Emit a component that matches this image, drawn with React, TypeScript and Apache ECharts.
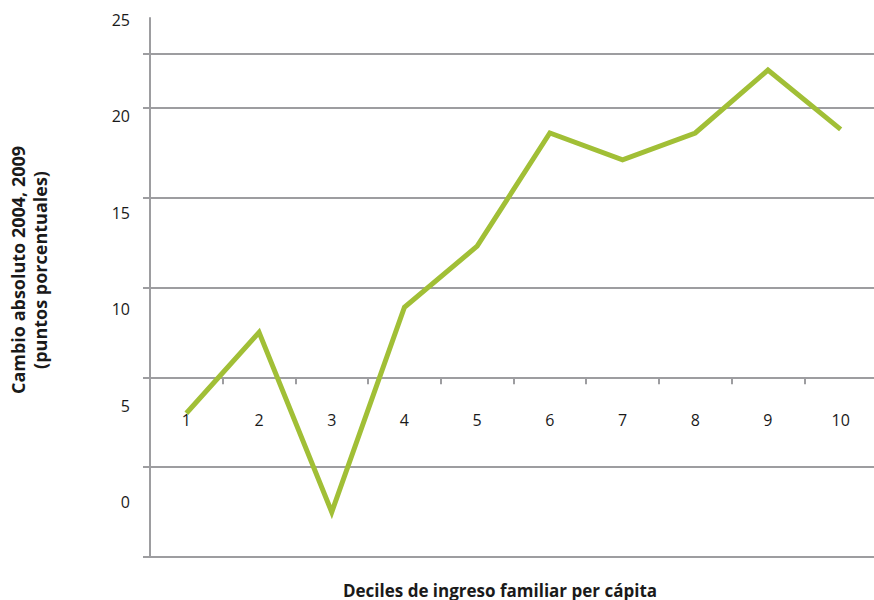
import React, { useEffect, useRef } from "react";
import * as echarts from "echarts";

const deciles = ["1", "2", "3", "4", "5", "6", "7", "8", "9", "10"];
const cambio = [-2, 2.5, -7.5, 3.9, 7.3, 13.6, 12.1, 13.6, 17.1, 13.8];
const gridTickValues = [-10, -5, 0, 5, 10, 15, 18];
const labelTickValues = [0, 5, 10, 15, 20, 25];
const yTitle = "Cambio absoluto 2004, 2009\n(puntos porcentuales)";
const xTitle = "Deciles de ingreso familiar per cápita";

const GREY = "#9d9da0";
const GREEN = "#a1bf36";
const FONT = "'Open Sans', 'Noto Sans', sans-serif";

const GRID_TOP = 18;
const GRID_BOTTOM_PX = 557;
const Y_MIN = -10;
const Y_MAX = 20;

export default function App() {
  const ref = useRef<HTMLDivElement>(null);
  useEffect(() => {
    if (!ref.current) return;
    const chart = echarts.init(ref.current, null, { renderer: "svg" });
    const pxPerUnit = (GRID_BOTTOM_PX - GRID_TOP) / (Y_MAX - Y_MIN);
    const zeroOffset = -(0 - Y_MIN) * pxPerUnit;
    chart.setOption({
      animation: false,
      textStyle: { fontFamily: FONT },
      grid: {
        left: 150,
        right: -3,
        top: GRID_TOP,
        bottom: 600 - GRID_BOTTOM_PX,
        outerBoundsMode: "none",
        containLabel: false,
      },
      xAxis: {
        type: "category",
        data: deciles,
        boundaryGap: true,
        position: "bottom",
        offset: zeroOffset,
        axisLine: { show: true, onZero: false, lineStyle: { color: GREY, width: 2 } },
        axisTick: { show: true, length: 7, lineStyle: { color: GREY, width: 2 } },
        axisLabel: { margin: 35, fontSize: 16, color: "#1a1a1a", fontFamily: FONT },
        splitLine: { show: false },
      },
      yAxis: [
        {
          type: "value",
          min: Y_MIN,
          max: Y_MAX,
          position: "left",
          axisLine: { show: true, onZero: false, lineStyle: { color: GREY, width: 2 } },
          axisTick: { show: true, length: 7, customValues: gridTickValues, lineStyle: { color: GREY, width: 2 } },
          axisLabel: { show: false },
          splitLine: { show: true, lineStyle: { color: GREY, width: 2 } },
        },
        {
          type: "value",
          min: -2.85,
          max: 25.09,
          position: "left",
          axisLine: { show: false, onZero: false },
          axisTick: { show: false },
          splitLine: { show: false },
          axisLabel: { show: true, customValues: labelTickValues, margin: 20, fontSize: 16, color: "#1a1a1a", fontFamily: FONT },
        },
      ],
      graphic: [
        {
          type: "text",
          x: 500,
          y: 590,
          style: {
            text: xTitle,
            fontSize: 17,
            fontWeight: "bold",
            fill: "#1a1a1a",
            fontFamily: FONT,
            textAlign: "center",
            textVerticalAlign: "middle",
          },
        },
        {
          type: "text",
          x: 29,
          y: 270,
          rotation: Math.PI / 2,
          style: {
            text: yTitle,
            fontSize: 18,
            lineHeight: 22,
            fontWeight: "bold",
            fill: "#1a1a1a",
            fontFamily: FONT,
            textAlign: "center",
            textVerticalAlign: "middle",
          },
        },
      ],
      series: [
        {
          type: "line",
          data: cambio,
          yAxisIndex: 0,
          symbol: "none",
          lineStyle: { color: GREEN, width: 5, join: "miter" },
          z: 5,
        },
      ],
    });
    return () => chart.dispose();
  }, []);
  return (
    <div
      ref={ref}
      style={{ position: "fixed", left: 0, top: 0, width: 874, height: 600, background: "#fff" }}
    />
  );
}
